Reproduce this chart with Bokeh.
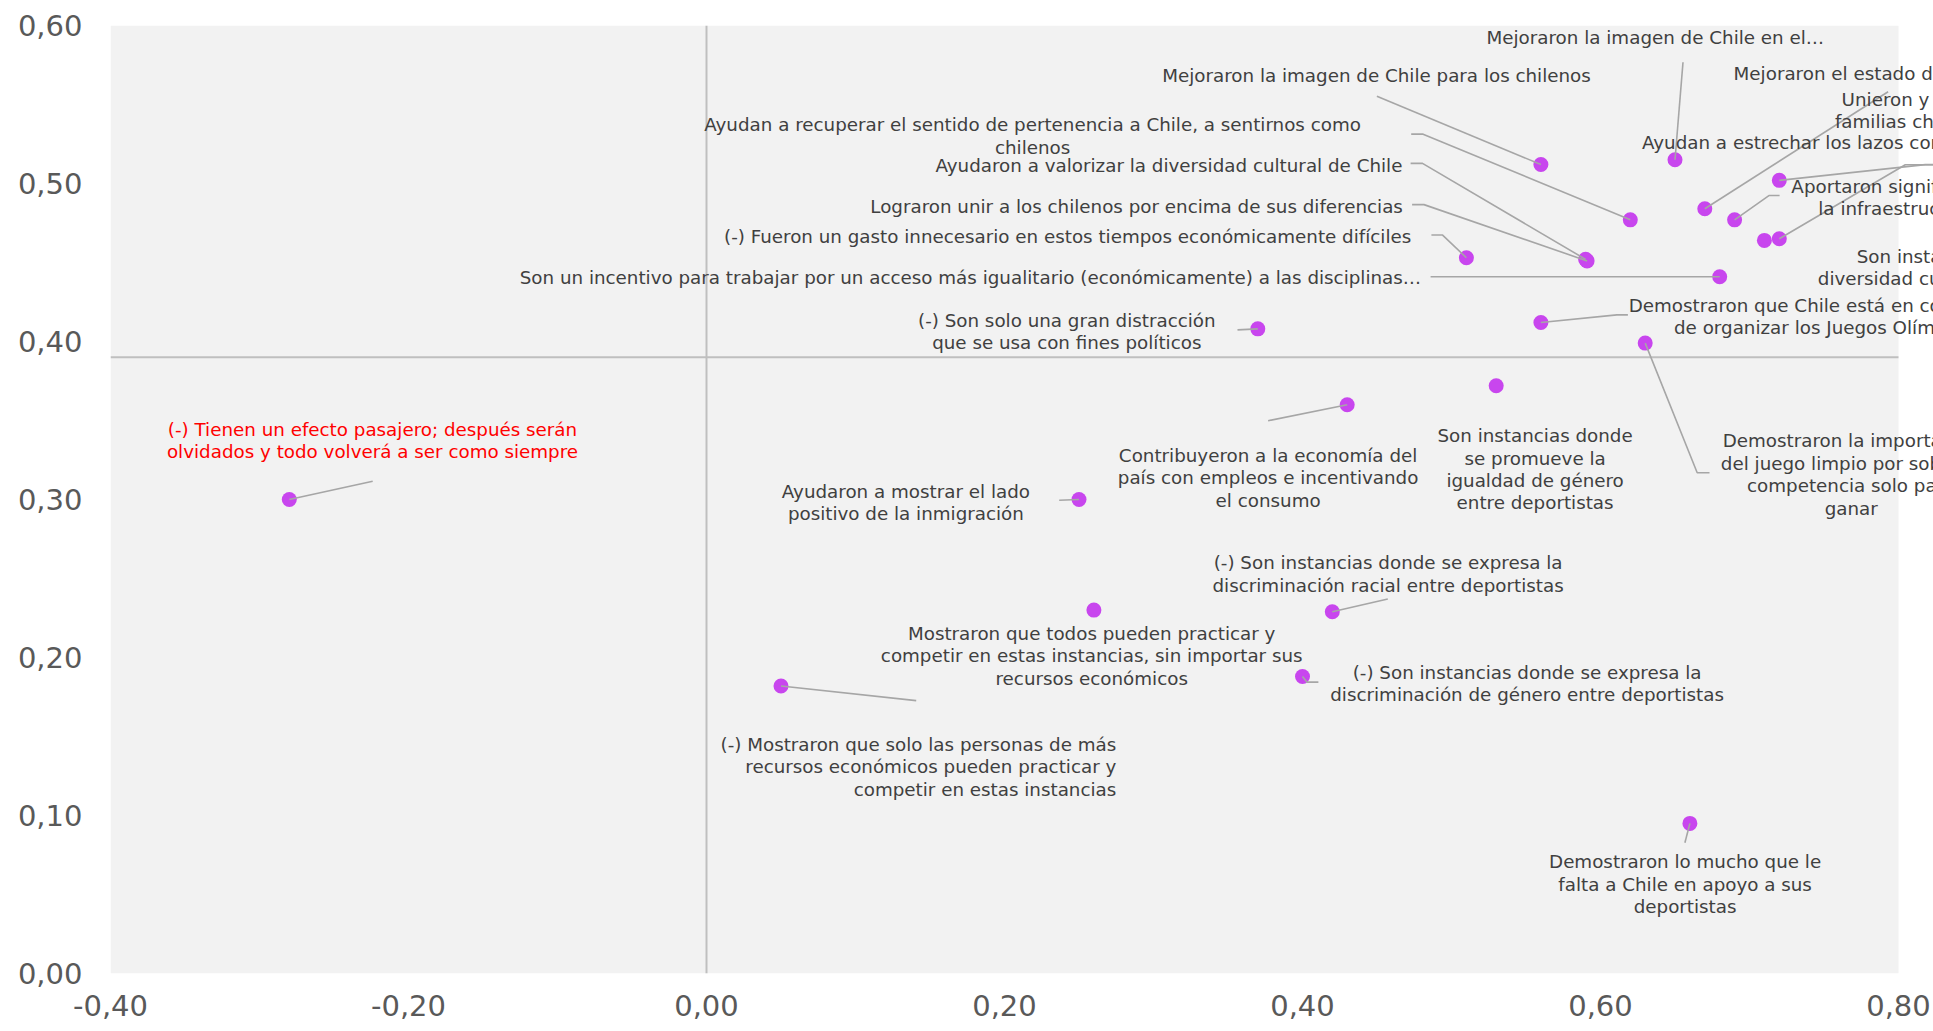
from bokeh.plotting import figure
from bokeh.models import (Range1d, FixedTicker, CustomJSTickFormatter,
                          BoxAnnotation, ColumnDataSource)
from bokeh.core.properties import value
from bokeh.embed import file_html
from bokeh.resources import INLINE

# ---------------- data ----------------
statements = [
    "(-) Tienen un efecto pasajero; después serán\nolvidados y todo volverá a ser como siempre",
    "Ayudaron a mostrar el lado\npositivo de la inmigración",
    "Mostraron que todos pueden practicar y\ncompetir en estas instancias, sin importar sus\nrecursos económicos",
    "(-) Mostraron que solo las personas de más\nrecursos económicos pueden practicar y\ncompetir en estas instancias",
    "Contribuyeron a la economía del\npaís con empleos e incentivando\nel consumo",
    "Son instancias donde\nse promueve la\nigualdad de género\nentre deportistas",
    "(-) Son instancias donde se expresa la\ndiscriminación racial entre deportistas",
    "(-) Son instancias donde se expresa la\ndiscriminación de género entre deportistas",
    "Demostraron lo mucho que le\nfalta a Chile en apoyo a sus\ndeportistas",
    "(-) Son solo una gran distracción\nque se usa con fines políticos",
    "Demostraron que Chile está en condiciones\nde organizar los Juegos Olímpicos",
    "Demostraron la importancia\ndel juego limpio por sobre la\ncompetencia solo para\nganar",
    "(-) Fueron un gasto innecesario en estos tiempos económicamente difíciles",
    "Son un incentivo para trabajar por un acceso más igualitario (económicamente) a las disciplinas…",
    "Ayudaron a valorizar la diversidad cultural de Chile",
    "Lograron unir a los chilenos por encima de sus diferencias",
    "Ayudan a recuperar el sentido de pertenencia a Chile, a sentirnos como\nchilenos",
    "Mejoraron la imagen de Chile para los chilenos",
    "Mejoraron la imagen de Chile en el…",
    "Unieron y entretuvieron a las\nfamilias chilenas de todo Chile",
    "Aportaron significativamente a\nla infraestructura urbana",
    "Ayudan a estrechar los lazos con otros países",
    "Son instancias que celebran la\ndiversidad cultural y étnica del planeta",
    "Mejoraron el estado de ánimo de los chilenos",
]
x_score = [-0.28, 0.25, 0.26, 0.05, 0.43, 0.53, 0.42, 0.40, 0.66, 0.37, 0.56, 0.63,
           0.51, 0.68, 0.59, 0.591, 0.62, 0.56, 0.65, 0.67, 0.69, 0.72, 0.71, 0.72]
y_score = [0.300, 0.300, 0.230, 0.182, 0.360, 0.372, 0.229, 0.188, 0.095, 0.408, 0.412, 0.399,
           0.453, 0.441, 0.452, 0.451, 0.477, 0.512, 0.515, 0.484, 0.477, 0.502, 0.464, 0.465]
highlighted = [0]          # statements written in red

x_ticks = [-0.4, -0.2, 0.0, 0.2, 0.4, 0.6, 0.8]
y_ticks = [0.0, 0.1, 0.2, 0.3, 0.4, 0.5, 0.6]
x_cross = 0.0               # vertical reference line
y_cross = 0.39              # horizontal reference line

# ---------------- layout (pixel offsets of labels / leader lines) ----------------
label_dx = [83.2, -173.1, -2.2, 335.3, -79.1, 38.9, 55.8, 224.6, -4.8, -191.0, 287.3, 206.0,
            -55.1, -298.6, -183.2, -184.2, -597.7, -164.4, -19.7, 270.0, 198.2, -137.3, 232.3, -45.7]
label_dy = [-59.1, 2.9, 45.5, 80.8, 73.1, 83.5, -37.7, 7.0, 60.7, 2.7, -6.0, 131.3,
            -21.0, 1.0, -94.0, -54.7, -84.0, -88.6, -122.6, -98.2, -22.3, -37.7, 27.0, -165.0]
label_align = ["center", "center", "center", "right", "center", "center", "center", "center",
               "center", "center", "center", "center", "right", "right", "right", "right",
               "center", "center", "center", "center", "center", "left", "center", "left"]
leaders = [
    [(83.4, -18.3)], [(-19.8, 0.7)], [], [(135.2, 14.7)], [(-79.1, 16.0)], [],
    [(55.5, -12.7)], [(4.5, 5.7), (15.9, 5.7)], [(-5.0, 19.4)], [(-20.3, 1.0)],
    [(76.0, -7.7), (87.0, -7.7)], [(52.0, 129.6), (64.3, 129.6)],
    [(-23.8, -22.7), (-35.0, -22.7)], [(-289.1, 0.0)],
    [(-163.1, -96.0), (-175.0, -96.0)], [(-163.1, -56.3), (-175.0, -56.3)],
    [(-207.2, -85.7), (-219.1, -85.7)], [(-164.0, -68.3)], [(8.0, -97.6)],
    [(183.3, -117.0)], [(34.3, -24.3), (45.0, -24.3)], [(146.0, -15.7), (220.0, -15.7)],
    [], [(126.0, -74.0), (220.0, -74.0)],
]

FRAME_W, FRAME_H = 1823, 948
GREY_W = 1788                      # px from frame left to right edge of grey panel
X_MIN, X_MAX = x_ticks[0], x_ticks[-1]
Y_MIN, Y_MAX = y_ticks[0], y_ticks[-1]
px_x = GREY_W / (X_MAX - X_MIN)
px_y = FRAME_H / (Y_MAX - Y_MIN)
X_END = X_MIN + FRAME_W / px_x

FONT = "DejaVu Sans"
TEXT_COL = "#404040"
POINT_COL = "#C846EE"
LEAD_COL = "#A6A6A6"

p = figure(frame_width=FRAME_W, frame_height=FRAME_H,
           x_range=Range1d(X_MIN, X_END), y_range=Range1d(Y_MIN, Y_MAX),
           output_backend="svg", toolbar_location=None,
           min_border_left=110, min_border_right=0, min_border_top=25, min_border_bottom=50,
           background_fill_color="white", border_fill_color="white")
p.outline_line_color = None
p.grid.visible = False

p.add_layout(BoxAnnotation(left=X_MIN, right=X_MAX, bottom=Y_MIN, top=Y_MAX,
                           fill_color="#F2F2F2", fill_alpha=1.0, line_color=None,
                           level="underlay"))

# reference cross lines
p.segment(x0=[X_MIN, x_cross], y0=[y_cross, Y_MIN], x1=[X_MAX, x_cross], y1=[y_cross, Y_MAX],
          line_color="#BFBFBF", line_width=2)

# points
p.scatter(x=x_score, y=y_score, size=15, color=POINT_COL, line_color=None)

# leader lines
lx, ly = [], []
for xi, yi, pts in zip(x_score, y_score, leaders):
    if not pts:
        continue
    xs = [xi] + [xi + dx / px_x for dx, dy in pts]
    ys = [yi] + [yi - dy / px_y for dx, dy in pts]
    lx.append(xs)
    ly.append(ys)
p.multi_line(xs=lx, ys=ly, line_color=LEAD_COL, line_width=1.6)

# labels
colors = ["#FF0000" if i in highlighted else TEXT_COL for i in range(len(statements))]
src = ColumnDataSource(dict(
    x=[xi + dx / px_x for xi, dx in zip(x_score, label_dx)],
    y=[yi - dy / px_y for yi, dy in zip(y_score, label_dy)],
    text=statements, color=colors, align=label_align))
p.text(x="x", y="y", text="text", source=src, text_color="color", text_align="align",
       text_baseline="middle", text_font=value(FONT), text_font_size="18.3px",
       text_line_height=1.07)

fmt = CustomJSTickFormatter(code="return tick.toFixed(2).replace('.', ',');")
for ax, ticks, standoff in ((p.xaxis, x_ticks, 15), (p.yaxis, y_ticks, 22)):
    ax.ticker = FixedTicker(ticks=ticks)
    ax.formatter = fmt
    ax.axis_line_color = None
    ax.major_tick_line_color = None
    ax.minor_tick_line_color = None
    ax.major_label_text_font = FONT
    ax.major_label_text_font_size = "29px"
    ax.major_label_text_color = "#595959"
    ax.major_label_standoff = standoff

open("out.html", "w").write(file_html(p, INLINE))
